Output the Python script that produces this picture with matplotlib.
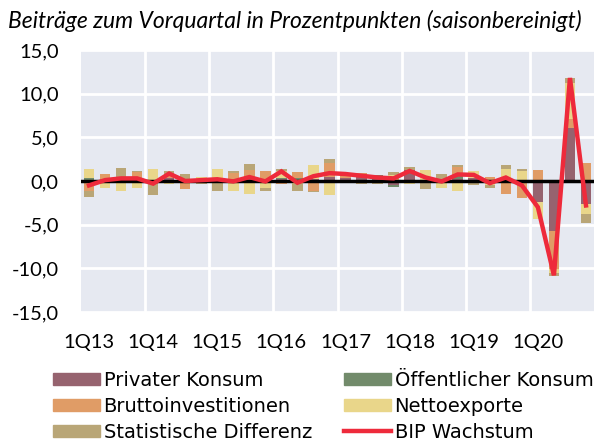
import matplotlib
matplotlib.use("Agg")
import matplotlib.pyplot as plt
import numpy as np
from matplotlib.patches import Patch
from matplotlib.lines import Line2D

plt.rcParams['font.family'] = ['Lato', 'DejaVu Sans']

# Quartale 1Q13 .. 4Q20
quartale = [f"{q}Q{j}" for j in range(13, 21) for q in range(1, 5)]
tick_labels = ["1Q13", "1Q14", "1Q15", "1Q16", "1Q17", "1Q18", "1Q19", "1Q20"]

#Beiträge zum Vorquartal (Prozentpunkte)
privat = [0.15, 0.0, 0.2, 0.3, 0.0, 0.4, 0.1, 0.1,
          0.1, 0.0, 0.5, 0.0, 0.2, -0.1, 0.2, 0.5,
          0.3, 0.5, 0.4, -0.45, 1.3, 0.0, 0.0, 0.2,
          0.4, 0.0, 0.0, 0.0, -2.45, -5.7, 6.1, -2.65]
oeffentlich = [0.25, 0.0, 0.0, 0.0, 0.0, 0.0, 0.0, 0.0,
               0.0, 0.0, 0.0, 0.0, 0.2, 0.3, 0.0, 0.0,
               0.1, 0.2, 0.3, -0.25, 0.0, 0.0, 0.25, 0.4,
               0.0, 0.0, 0.0, 0.0, 0.0, 0.1, 0.0, 0.0]
brutto = [-1.15, 0.75, 0.0, 0.7, 0.0, 0.3, -0.9, 0.0,
          0.0, 0.9, 0.8, 1.1, -0.3, 0.7, -1.1, 1.6,
          0.3, 0.2, 0.0, 0.3, 0.0, 0.0, 0.0, 1.0,
          0.0, 0.5, -1.45, -1.9, 1.3, -4.4, 0.95, 2.1]
netto = [0.95, -0.75, -1.2, -0.8, 1.35, -0.3, 0.0, 0.4,
         1.3, -1.2, -1.5, -0.8, 0.8, -0.3, 1.6, -1.6,
         0.0, 0.0, 0.0, 0.4, -0.4, 1.3, -0.85, -1.1,
         0.75, -0.45, 1.35, 1.15, -1.95, -0.4, 4.2, -1.15]
stat_diff = [-0.7, 0.1, 1.3, 0.15, -1.65, 0.4, 0.7, -0.4,
             -1.2, 0.2, 0.6, -0.3, 0.2, -0.8, -0.2, 0.4,
             0.1, -0.3, -0.3, 0.3, 0.25, -0.9, 0.6, 0.25,
             -0.5, -0.3, 0.45, 0.2, 0.0, -0.4, 0.55, -1.05]
bip = [-0.5, 0.1, 0.3, 0.3, -0.3, 0.85, 0.0, 0.1,
       0.2, -0.05, 0.45, -0.05, 1.1, -0.2, 0.55, 0.9,
       0.8, 0.6, 0.4, 0.3, 1.15, 0.4, -0.05, 0.75,
       0.7, -0.25, 0.4, -0.5, -3.0, -10.8, 11.8, -2.8]

reihen = [
    ("Privater Konsum", privat, "#96636f"),
    ("Öffentlicher Konsum", oeffentlich, "#728b6b"),
    ("Bruttoinvestitionen", brutto, "#e09c66"),
    ("Nettoexporte", netto, "#e9d68a"),
    ("Statistische Differenz", stat_diff, "#b9a677"),
]
rot = "#ee2a3b"

W, H = 599, 443
fig = plt.figure(figsize=(W / 100, H / 100), dpi=100)
ax = fig.add_axes([81 / W, 1 - 312 / H, (594 - 81) / W, (312 - 50) / H])
ax.set_facecolor("#e6e9f1")

x = np.arange(len(quartale))
pos = np.zeros(len(x))
neg = np.zeros(len(x))
for name, werte, farbe in reihen:
    v = np.array(werte)
    unten = np.where(v >= 0, pos, neg)
    ax.bar(x, v, bottom=unten, width=0.66, color=farbe, zorder=2)
    pos = pos + np.clip(v, 0, None)
    neg = neg + np.clip(v, None, 0)

ax.axhline(0, color="black", lw=2.5, zorder=3)
ax.plot(x, bip, color=rot, lw=3.2, zorder=4, solid_joinstyle="miter")

ax.set_xlim(-0.5, len(x) - 0.5)
ax.set_ylim(-15, 15)
yt = np.arange(-15, 16, 5)
ax.set_yticks(yt)
ax.set_yticklabels([f"{v:.1f}".replace(".", ",") for v in yt], fontsize=14.5)
ax.set_xticks(x[::4])
ax.set_xticklabels(tick_labels, fontsize=14.5)
ax.set_xticks(np.arange(3.5, len(x) - 1, 4), minor=True)
ax.tick_params(axis="both", which="both", length=0)
ax.tick_params(axis="y", which="major", pad=16)
ax.tick_params(axis="x", which="major", pad=16)
ax.grid(axis="y", color="white", lw=2, zorder=1)
ax.grid(axis="x", which="minor", color="white", lw=2, zorder=1)
for s in ax.spines.values():
    s.set_visible(False)

fig.text(8 / W, 1 - 21 / H, "Beiträge zum Vorquartal in Prozentpunkten (saisonbereinigt)",
         fontsize=16.5, style="italic", va="center", ha="left")

# Legende in zwei Spalten
h1 = [Patch(color=reihen[0][2]), Patch(color=reihen[2][2]), Patch(color=reihen[4][2])]
l1 = [reihen[0][0], reihen[2][0], reihen[4][0]]
h2 = [Patch(color=reihen[1][2]), Patch(color=reihen[3][2]), Line2D([], [], color=rot, lw=3.2)]
l2 = [reihen[1][0], reihen[3][0], "BIP Wachstum"]
kw = dict(frameon=False, prop={"family": "DejaVu Sans", "size": 14}, handlelength=2.4,
          handleheight=0.6, handletextpad=0.2, labelspacing=0.35, borderpad=0,
          borderaxespad=0, loc="upper left")
fig.legend(h1, l1, bbox_to_anchor=(53 / W, 1 - 371 / H), **kw)
fig.legend(h2, l2, bbox_to_anchor=(344 / W, 1 - 371 / H), **kw)

fig.savefig("out.png", dpi=100)
